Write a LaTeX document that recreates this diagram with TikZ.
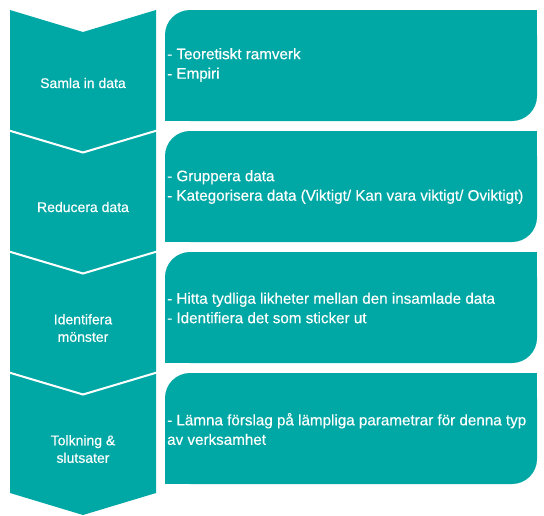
\documentclass[tikz,border=0pt]{standalone}
\usepackage{fontspec}
\setmainfont{Liberation Sans}[FakeBold=0.35]
\definecolor{stepteal}{RGB}{0,168,165}
\tikzstyle{chevron}=[fill=stepteal]
\tikzstyle{separator}=[white, line width=2pt]
\tikzstyle{infobox}=[fill=stepteal, rounded corners=25pt]
\tikzstyle{phase}=[white, align=center, font=\fontsize{14}{17.5}\selectfont]
\tikzstyle{detail}=[white, anchor=west, align=left, inner sep=0pt, font=\fontsize{15.2}{19.5}\selectfont]
\begin{document}
\begin{tikzpicture}[x=1pt, y=-1pt]
\useasboundingbox (0,0) rectangle (544,515);
% Chevrons
    \fill[chevron] (10,10) -- (83,32) -- (156,10) -- (156,130) -- (83,152) -- (10,130) -- cycle;
    \fill[chevron] (10,131) -- (83,153) -- (156,131) -- (156,251) -- (83,273) -- (10,251) -- cycle;
    \fill[chevron] (10,252) -- (83,274) -- (156,252) -- (156,372) -- (83,394) -- (10,372) -- cycle;
    \fill[chevron] (10,373) -- (83,395) -- (156,373) -- (156,493) -- (83,515) -- (10,493) -- cycle;
% Separators
    \draw[separator] (9,130.5) -- (83,152.5) -- (157,130.5);
    \draw[separator] (9,251.5) -- (83,273.5) -- (157,251.5);
    \draw[separator] (9,372.5) -- (83,394.5) -- (157,372.5);
% Boxes
    \fill[infobox] (165,10) rectangle (537,121);
    \fill[stepteal] (507,10) rectangle (537,40);
    \fill[stepteal] (165,91) rectangle (195,121);
    \fill[infobox] (165,131) rectangle (537,242);
    \fill[stepteal] (507,131) rectangle (537,161);
    \fill[stepteal] (165,212) rectangle (195,242);
    \fill[infobox] (165,252) rectangle (537,363);
    \fill[stepteal] (507,252) rectangle (537,282);
    \fill[stepteal] (165,333) rectangle (195,363);
    \fill[infobox] (165,373) rectangle (537,484);
    \fill[stepteal] (507,373) rectangle (537,403);
    \fill[stepteal] (165,454) rectangle (195,484);
% Phase labels
    \node[phase] (samla) at (83,83) {Samla in data};
    \node[phase] (reducera) at (83,207) {Reducera data};
    \node[phase] (identifera) at (83,328) {Identifera\\mönster};
    \node[phase] (tolkning) at (83,449) {Tolkning \&\\slutsater};
% Details
    \node[detail] (samlatext) at (167,65) {- Teoretiskt ramverk\\- Empiri};
    \node[detail] (reduceratext) at (167,187) {- Gruppera data\\- Kategorisera data (Viktigt/ Kan vara viktigt/ Oviktigt)};
    \node[detail] (identiferatext) at (167,308) {- Hitta tydliga likheter mellan den insamlade data\\- Identifiera det som sticker ut};
    \node[detail] (tolkningtext) at (167,429) {- Lämna förslag på lämpliga parametrar för denna typ\\av verksamhet};
\end{tikzpicture}
\end{document}
